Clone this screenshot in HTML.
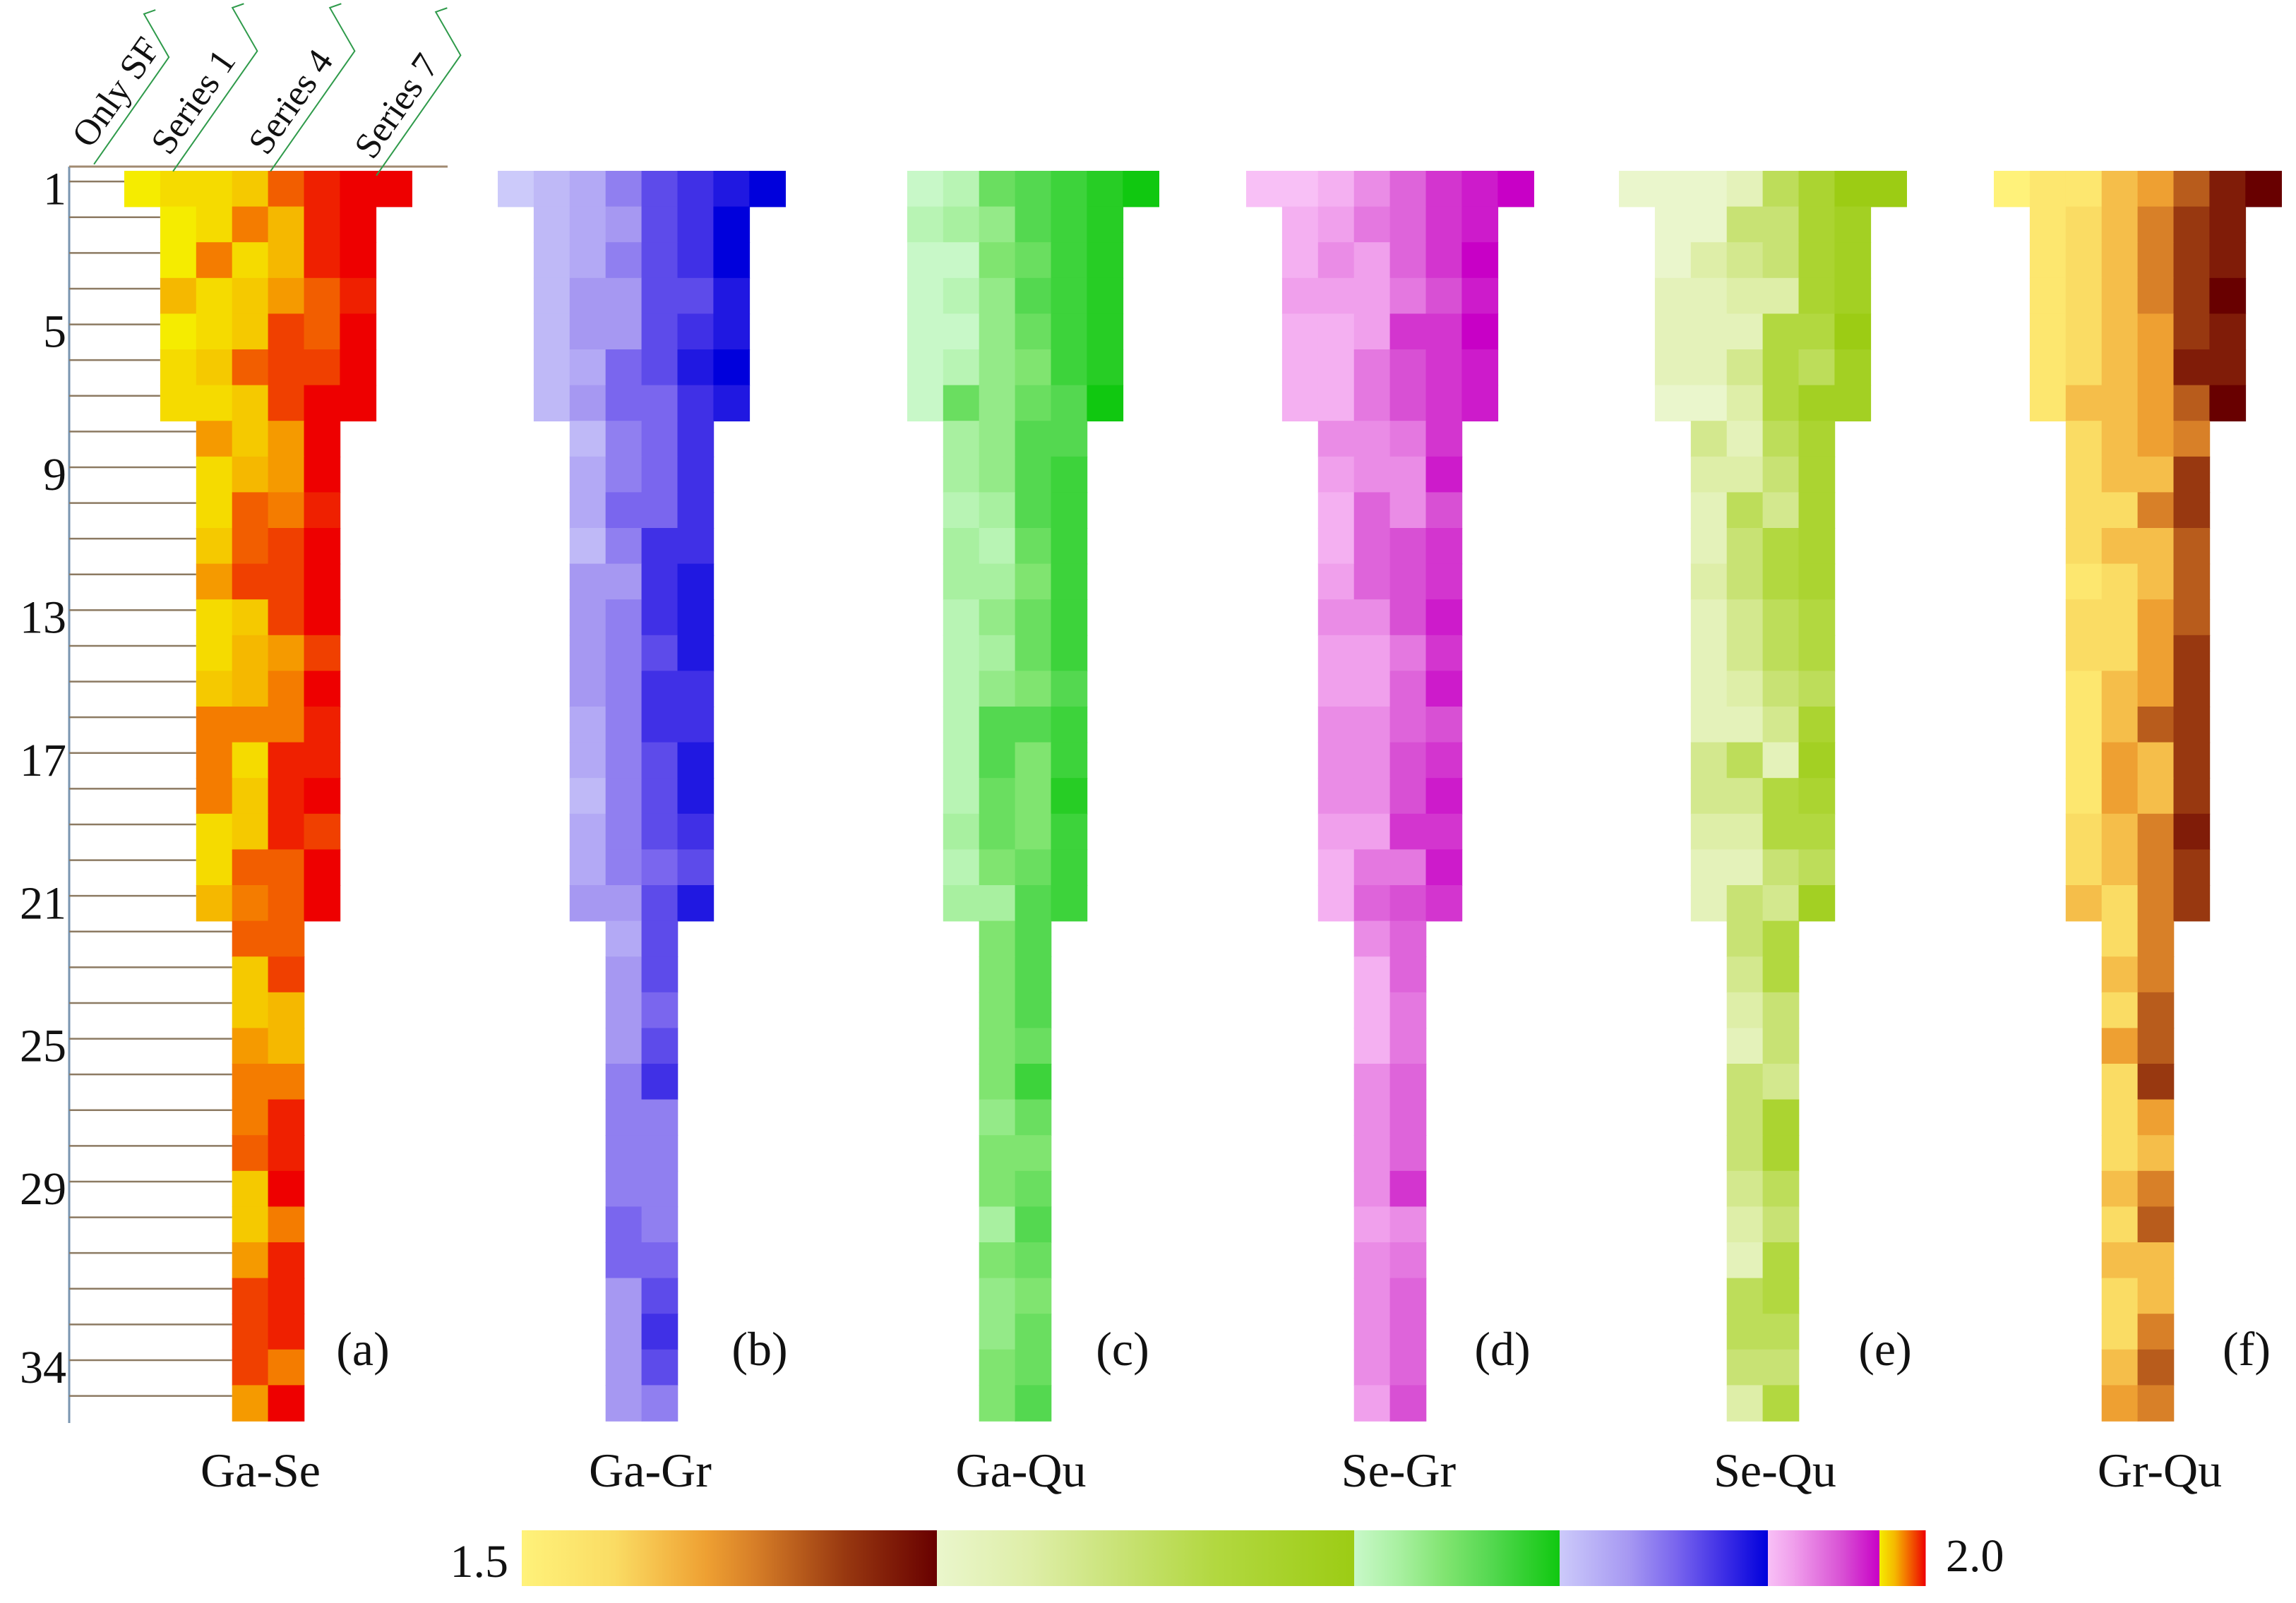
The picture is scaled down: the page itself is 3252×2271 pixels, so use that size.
<!DOCTYPE html>
<html><head><meta charset="utf-8"><style>
html,body{margin:0;padding:0;background:#fff;}
svg{display:block;}
text{font-family:"Liberation Serif",serif;fill:#111;}
</style></head><body>
<svg id="chart" width="3252" height="2271" viewBox="0 0 3252 2271" xmlns="http://www.w3.org/2000/svg">
<rect x="0" y="0" width="3252" height="2271" fill="#fff"/>
<g id="axis"></g>
<g id="cells"></g>
<g id="headers"></g>
<g id="labels"></g>
<g id="cbar"></g>
</svg>
<script>
// ---- data: level 0..9 per cell (0 = 1.5, 9 = 2.0) ----
const rowTicks = [1,5,9,13,17,21,25,29,34];
const panelNames = ["Ga-Se","Ga-Gr","Ga-Qu","Se-Gr","Se-Qu","Gr-Qu"];
const panelTags = ["(a)","(b)","(c)","(d)","(e)","(f)"];
const seriesLabels = ["Only SF","Series 1","Series 4","Series 7"];
const cbarMin = "1.5";
const cbarMax = "2.0";
const dataGaSe = ["01126899","015389","051389","312468","012769","126779","112799",
"4249","1349","1658","2679","4779","1279","1347","2359","5558","5188","5289","1287","1669","3569",
"66","27","23","43","55","58","68","29","25","48","78","78","75","49"];
const dataGaGr = ["01246789","123679","124679","133668","133678","125689","135578",
"1457","2457","2557","1477","3378","3478","3468","3477","2477","2468","1468","2467","2456","3368",
"26","36","35","36","47","44","44","44","54","55","36","37","36","34"];
const dataGaQu = ["0156789","123678","004578","013678","003578","013478","053569",
"2366","2367","1267","2157","2247","1357","1257","1346","1667","1647","1548","2547","1457","2267",
"46","46","46","45","47","35","44","45","26","45","34","35","45","46"];
const dataSeGr = ["00135789","124578","132579","222468","112779","114678","114678",
"3347","2338","1536","1567","2567","3368","2247","2258","3356","3367","3368","2277","1448","1567",
"35","15","14","14","35","35","35","37","23","34","35","35","35","26"];
const dataSeQu = ["00015799","004478","023478","112278","111669","113658","002688",
"3157","2247","1537","1467","2467","1356","1356","1245","1137","3518","3367","2266","1145","1438",
"46","36","24","14","43","47","47","35","24","16","56","55","44","26"];
const dataGrQu = ["01134689","123578","123578","123579","123478","123488","133469",
"2345","2337","2257","2336","1236","2246","2247","1347","1367","1437","1437","2358","2357","3257",
"25","35","26","46","27","24","23","35","26","33","23","25","36","45"];
const panelData = [dataGaSe,dataGaGr,dataGaQu,dataSeGr,dataSeQu,dataGrQu];
const panelX0 = [176,705,1234,1765,2293,2824];
const panelRow1Offset = [0,0,1,0,0,0];
const colorMaps = [
 [[0,"#f5ec00"],[3,"#f5b800"],[5,"#f47c00"],[7,"#f04000"],[9,"#ee0000"]],
 [[0,"#cccafa"],[3,"#a698f2"],[5,"#7a66ee"],[7,"#4030e6"],[9,"#0000dc"]],
 [[0,"#c8f8c8"],[2,"#a8f0a0"],[4,"#80e470"],[6,"#54d850"],[9,"#10c810"]],
 [[0,"#f8c0f6"],[2,"#f0a0ec"],[4,"#e478e0"],[6,"#d850d4"],[9,"#c800c6"]],
 [[0,"#eaf6cc"],[2,"#deeea8"],[4,"#c8e274"],[6,"#b2d840"],[9,"#9ccc14"]],
 [[0,"#fff27a"],[2,"#fadc64"],[3,"#f5be4a"],[4,"#eea032"],[5,"#d88028"],[6,"#b85c1c"],[7,"#983810"],[8,"#801c08"],[9,"#680000"]]
];
// ---- layout ----
const NS="http://www.w3.org/2000/svg";
const top0=242, rowH=50.6, colW=50.9;
function yOf(r){return top0+r*rowH;}
function hex(c){return [1,3,5].map(i=>parseInt(c.substr(i,2),16));}
function cmap(m,v){
  for(let i=0;i<m.length-1;i++){const a=m[i],b=m[i+1];
    if(v<=b[0]){const t=(v-a[0])/(b[0]-a[0]);const A=hex(a[1]),B=hex(b[1]);
      return "rgb("+A.map((x,k)=>Math.round(x+(B[k]-x)*t)).join(",")+")";}}
  return m[m.length-1][1];
}
function mk(tag,attrs,parent){const e=document.createElementNS(NS,tag);for(const k in attrs)e.setAttribute(k,attrs[k]);parent.appendChild(e);return e;}
function rowStart(p,r){ if(r===0) return panelX0[p]+panelRow1Offset[p]*colW; if(r<7) return panelX0[p]+colW; if(r<21) return panelX0[p]+2*colW; return panelX0[p]+3*colW;}
const cells=document.getElementById('cells');
panelData.forEach((rows,p)=>{
  rows.forEach((s,r)=>{
    const x0=rowStart(p,r);
    for(let c=0;c<s.length;c++){
      const rc=mk('rect',{x:(x0+c*colW).toFixed(1),y:yOf(r).toFixed(1),width:(colW+0.8).toFixed(1),height:(rowH+0.8).toFixed(1),fill:cmap(colorMaps[p],+s[c])},cells);
      
      
    }
  });
});
// axis
const ax=document.getElementById('axis');
let l=mk('line',{x1:98,y1:236,x2:98,y2:2016,stroke:"#7a95b0","stroke-width":3},ax);


l=mk('line',{x1:98,y1:236,x2:634,y2:236,stroke:"#a08a70","stroke-width":3},ax);


for(let r=0;r<35;r++){
  const y=yOf(r)+rowH*0.3;
  const t=mk('line',{x1:98,y1:y,x2:rowStart(0,r),y2:y,stroke:"#8c7a62","stroke-width":2.5},ax);
  
  
}
rowTicks.forEach(n=>{
  const t=mk('text',{x:94,y:yOf(n-1)+rowH/2+22,"font-size":66,"text-anchor":"end"},ax);
  t.textContent=n;
  
  
});
// headers
const hd=document.getElementById('headers');
const hx=[128,240,378,528], hy=[212,222,222,228];
seriesLabels.forEach((s,i)=>{
  const g=mk('g',{transform:"translate("+hx[i]+","+hy[i]+") rotate(-55)"},hd);
  
  
  const t=mk('text',{x:0,y:0,"font-size":52},g);
  t.textContent=s;
  const L=s.length*23+10;
  mk('polyline',{points:"-14,16 "+L+",16 "+(L+30)+",-48 "+(L+44)+",-38",fill:"none",stroke:"#2e9a4a","stroke-width":2},g);
});
// panel labels
const lb=document.getElementById('labels');
const tagX=[514,1076,1590,2128,2670,3182], nameX=[369,921,1446,1981,2514,3059];
panelNames.forEach((n,i)=>{
  let t=mk('text',{x:tagX[i],y:1934,"font-size":68,"text-anchor":"middle"},lb);
  t.textContent=panelTags[i];
  
  
  t=mk('text',{x:nameX[i],y:2106,"font-size":68,"text-anchor":"middle"},lb);
  t.textContent=n;
  
  
});
// colorbar
const cb=document.getElementById('cbar');
const defs=mk('defs',{},cb);
const segOrder=[5,4,2,1,3,0];
const segEdges=[739,1327,1918,2209,2504,2662,2727];
segOrder.forEach((p,i)=>{
  const g=mk('linearGradient',{id:"g"+i,x1:0,x2:1,y1:0,y2:0},defs);
  colorMaps[p].forEach(st=>mk('stop',{offset:(st[0]/9),"stop-color":st[1]},g));
  const r=mk('rect',{x:segEdges[i],y:2168,width:segEdges[i+1]-segEdges[i]+0.5,height:79,fill:"url(#g"+i+")"},cb);
  
  
});
let t=mk('text',{x:720,y:2234,"font-size":66,"text-anchor":"end"},cb);
t.textContent=cbarMin;


t=mk('text',{x:2756,y:2226,"font-size":66},cb);
t.textContent=cbarMax;


</script>
</body></html>
